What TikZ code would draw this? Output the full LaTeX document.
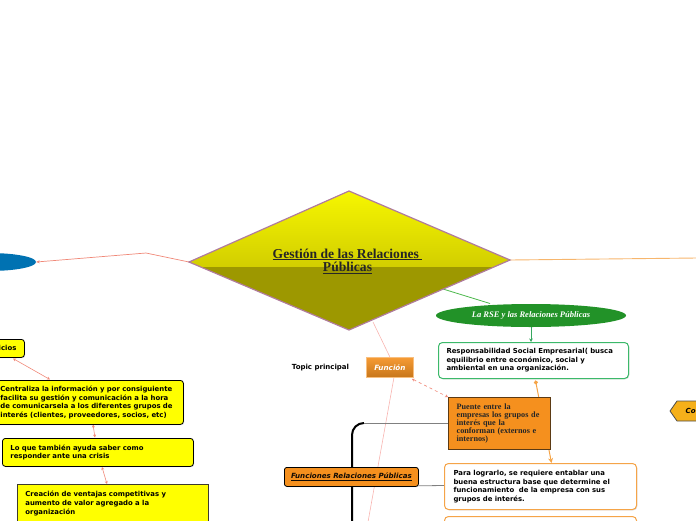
\documentclass[tikz,border=0pt]{standalone}
\usepackage{fontspec}
\setmainfont{Liberation Serif}
\newfontfamily\vs{DejaVu Sans}
\usetikzlibrary{shapes.geometric,arrows.meta,shadows}
\definecolor{salmon}{HTML}{F08878}
\definecolor{lpink}{HTML}{F8B4B0}
\definecolor{dTop}{HTML}{F8F800}
\definecolor{dMid}{HTML}{D2CE00}
\definecolor{dLow}{HTML}{9D9800}
\definecolor{mauve}{HTML}{B07C9C}
\definecolor{rseg}{HTML}{229228}
\definecolor{rsel}{HTML}{3CB96A}
\definecolor{orng}{HTML}{F5901E}
\definecolor{lorng}{HTML}{F5A448}
\definecolor{brwn}{HTML}{5B3A14}
\definecolor{tagc}{HTML}{F5B01A}
\definecolor{blu}{HTML}{0072B2}
\definecolor{ylw}{HTML}{FFFF00}
\pgfdeclarelayer{bg}
\pgfsetlayers{bg,main}
\tikzset{
  sm/.style={font=\vs\bfseries\fontsize{6.9}{8.6}\selectfont},
  ybox/.style={sm, draw=black, line width=0.8pt, fill=ylw, rounded corners=3pt,
    anchor=north west, align=left, inner xsep=8pt, inner ysep=0pt,
    drop shadow={shadow xshift=0.8pt, shadow yshift=-0.8pt, opacity=0.35}},
  wbox/.style={sm, fill=white, rounded corners=4pt, line width=1pt,
    anchor=north west, align=left, inner xsep=8pt, inner ysep=0pt,
    drop shadow={shadow xshift=0.8pt, shadow yshift=-0.8pt, opacity=0.3}},
  dbl/.style={salmon, line width=0.6pt, {Stealth[length=3pt,width=3pt]}-{Stealth[length=3pt,width=3pt]}},
}
\begin{document}
\begin{tikzpicture}[x=1pt,y=-1pt]
\useasboundingbox (0,0) rectangle (696,520);

% ---------- central diamond ----------
\coordinate (dT) at (349,191);
\coordinate (dL) at (189,262);
\coordinate (dR) at (510,260);
\coordinate (dB) at (349,330);
\begin{scope}
\clip (dT)--(dR)--(dB)--(dL)--cycle;
\shade[top color=dTop, bottom color=dMid] (185,188) rectangle (515,267);
\fill[dLow] (185,267) rectangle (515,334);
\end{scope}
\draw[mauve, line width=1.2pt, line join=miter] (dT)--(dR)--(dB)--(dL)--cycle;
\node[font=\bfseries\fontsize{13.6}{13}\selectfont, align=center, text=black!85] (main) at (347.5,261)
  {\underline{Gestión de las Relaciones\ }\\\underline{Públicas}};

% ---------- left branch ----------
\node[ellipse, fill=blu, minimum width=94pt, minimum height=18pt, inner sep=0pt] (blue) at (-11,262) {};
\coordinate (bend) at (146,253);

\node[ybox, text width=68pt, minimum height=18pt, align=right] (b1) at (-60,339) {Beneficios};
\node[ybox, inner xsep=5pt, text width=178pt, minimum height=44pt] (b2) at (-5,380)
  {Centraliza la información y por consiguiente\\facilita su gestión y comunicación a la hora\\de comunicarsela a los diferentes grupos de\\interés (clientes, proveedores, socios, etc)};
\node[ybox, text width=175pt, minimum height=28pt] (b3) at (2,438)
  {Lo que también ayuda saber como\\responder ante una crisis};
\node[ybox, rounded corners=0pt, draw=black!75!olive, text width=175pt, minimum height=38pt] (b4) at (17,484)
  {Creación de ventajas competitivas y\\aumento de valor agregado a la\\organización};

% ---------- right branch ----------
\node[ellipse, fill=rseg, minimum width=190pt, minimum height=23pt, inner sep=0pt,
  text=white, font=\bfseries\itshape\fontsize{8.5}{9}\selectfont] (rse) at (531,315.5)
  {La RSE y las Relaciones Públicas};
\node[wbox, draw=rsel, text width=174pt, minimum height=36pt] (resp) at (438,342)
  {Responsabilidad Social Empresarial( busca\\equilibrio entre económico, social y\\ambiental en una organización.};
\node[fill=orng, draw=brwn, line width=1.3pt, anchor=north west, minimum width=102pt, minimum height=52pt,
  text width=86pt, inner xsep=8pt, inner ysep=0pt, align=left, text=black!85,
  font=\bfseries\fontsize{8.2}{8}\selectfont] (puente) at (448,397)
  {Puente entre la\\empresas los grupos de\\interés que la\\conforman (externos e\\internos)};
\node[wbox, draw=lorng, inner xsep=9pt, text width=174pt, minimum height=46pt] (para) at (444,463)
  {Para lograrlo, se requiere entablar una\\buena estructura base que determine el\\funcionamiento\ \ de la empresa con sus\\grupos de interés.};
\node[wbox, draw=lorng, text width=176pt, minimum height=30pt] (next) at (444,516) {};

\node[sm, font=\vs\bfseries\fontsize{7}{8}\selectfont, anchor=center] (topic) at (320.5,367.5) {Topic principal};
\node[anchor=north west, minimum width=47pt, minimum height=20pt, inner sep=0pt,
  top color=orng!90!white, bottom color=orng!70!brwn, draw=lorng!70!white, line width=0.8pt,
  text=white, font=\vs\bfseries\itshape\fontsize{7.2}{8}\selectfont] (fun) at (366,357) {Función};
\node[anchor=north west, minimum width=134pt, minimum height=19pt, inner sep=0pt,
  fill=orng, draw=black, line width=0.8pt, rounded corners=2.5pt, text=black!80!brwn,
  drop shadow={shadow xshift=0.8pt, shadow yshift=-0.8pt, opacity=0.35},
  font=\vs\bfseries\itshape\fontsize{7.1}{8}\selectfont] (funrp) at (284,467) {\underline{Funciones Relaciones Públicas}};

% tag at right edge
\draw[fill=tagc, draw=black!70, line width=0.8pt] (670,411) -- (677,401) -- (705,401) -- (705,421) -- (677,421) -- cycle;
\node[anchor=west, inner sep=0pt, font=\vs\bfseries\itshape\fontsize{7}{8}\selectfont] (co) at (685.5,411) {Co};

\coordinate (pinkend) at (368,522);
\coordinate (brk) at (352,522);

% ---------- connectors ----------
\begin{pgfonlayer}{bg}
\draw[salmon, line width=0.7pt, -{Stealth[length=3.5pt,width=3pt]}] (dL) -- (bend) -- (blue.east);
\draw[lorng!80!white, line width=0.9pt] (dR) -- (697,258);
\draw[green!60!black!70!white, line width=0.8pt] (443,289) -- (490,303.5);
\draw[lpink, line width=0.6pt] (373,322) -- (fun.north);
\draw[lpink, line width=0.6pt] (fun.south) ++(4,0) -- (pinkend);
\draw[dbl, dashed] (fun.south east) ++(-2,1) -- (puente.north west);
\draw[rsel!90!black, line width=0.8pt, -{Stealth[length=3.5pt,width=3.5pt]}] (rse.south) -- (resp.north -| rse.south);
\draw[lorng, line width=1pt, {Circle[length=4pt]}-{Stealth[length=5pt,width=5pt]}] (535.5,380.5) -- (551.5,463);
\draw[black, line width=2pt] (brk) -- (352,435) arc[start angle=180, end angle=90, radius=12pt];
\draw[gray, line width=0.8pt] (364,423) -- (puente.west |- 0,423);
\draw[gray, line width=0.8pt] (funrp.south east) ++(0,-1) -- (para.west |- 0,485.5);
\draw[dbl] (13,358.5) -- (50,379.5);
\draw[dbl] (93,424.5) -- (95,437.5);
\draw[dbl] (102,467) -- (107,484);
\end{pgfonlayer}
\end{tikzpicture}
\end{document}
